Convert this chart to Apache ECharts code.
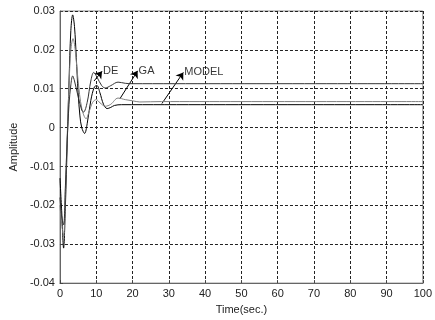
<!DOCTYPE html>
<html>
<head>
<meta charset="utf-8">
<script src="https://cdn.jsdelivr.net/npm/echarts@6/dist/echarts.min.js"></script>
<style>
  html, body { margin: 0; padding: 0; background: #fff; }
  #chart { width: 435px; height: 320px; }
</style>
</head>
<body>
<div id="chart"></div>
<script>
// step responses (time in sec, amplitude)
const timeA = [0, 0.5, 1.0, 1.5, 2.0, 2.5, 3.0, 3.5, 4.0, 4.5, 5.0, 5.5, 6.0, 6.8, 7.5, 8.5, 9.5, 10.2, 11, 12, 13, 14, 15, 17, 100];
const ampA = [-0.013, -0.022, -0.031, -0.02, -0.004, 0.012, 0.025, 0.029, 0.026, 0.018, 0.009, 0.003, 0.0, -0.0015, 0.001, 0.007, 0.0105, 0.0108, 0.009, 0.006, 0.0049, 0.0052, 0.0057, 0.0059, 0.0059];

const timeB = [0, 0.5, 1.0, 1.5, 2.0, 2.5, 3.0, 3.6, 4.2, 5, 6, 7.2, 8, 9, 10, 11, 12.5, 14, 16, 18, 20, 22, 28, 100];
const ampB = [-0.02, -0.025, -0.028, -0.016, -0.002, 0.011, 0.02, 0.0229, 0.02, 0.012, 0.005, 0.0023, 0.004, 0.0065, 0.0072, 0.0064, 0.0055, 0.006, 0.0076, 0.0072, 0.0069, 0.0066, 0.0067, 0.0067];

const timeC = [0, 0.5, 1.0, 1.5, 2.0, 2.5, 3.0, 3.5, 4.0, 5, 6, 6.5, 7.5, 8.5, 9.3, 10.2, 11.5, 12.5, 14, 16, 18, 20, 100];
const ampC = [-0.018, -0.023, -0.025, -0.015, -0.003, 0.006, 0.011, 0.0133, 0.012, 0.008, 0.0045, 0.004, 0.0065, 0.012, 0.0142, 0.013, 0.0108, 0.0102, 0.0108, 0.0117, 0.0114, 0.0113, 0.0113];

// labels with arrows: [tail, head] in data units
const labelNames = ['DE', 'GA', 'MODEL'];
const arrowTails = [[9.4, 0.012], [16.5, 0.0074], [28.1, 0.0062]];
const arrowHeads = [[11.6, 0.0145], [21.4, 0.0146], [34.0, 0.0142]];

const xTicks = [0, 10, 20, 30, 40, 50, 60, 70, 80, 90, 100];
const yTicks = [-0.04, -0.03, -0.02, -0.01, 0, 0.01, 0.02, 0.03];

const font = 'Liberation Sans, Arial, sans-serif';
const pair = (ts, vs) => ts.map((t, i) => [t, vs[i]]);

const chart = echarts.init(document.getElementById('chart'), null, { renderer: 'canvas' });
chart.setOption({
  animation: false,
  grid: { left: 57, right: 6, top: 11, bottom: 33, show: true, borderColor: '#8a8a8a', borderWidth: 1 },
  xAxis: {
    type: 'value',
    min: xTicks[0],
    max: xTicks[xTicks.length - 1],
    interval: 10,
    name: 'Time(sec.)',
    nameLocation: 'middle',
    nameGap: 17,
    nameTextStyle: { fontFamily: font, fontSize: 11, color: '#222' },
    axisLine: { show: true, onZero: false, lineStyle: { color: '#666', width: 1 } },
    axisTick: { show: true, inside: true, length: 3, lineStyle: { color: '#444' } },
    axisLabel: { fontFamily: font, fontSize: 11, color: '#222', margin: 5 },
    splitLine: { show: true, lineStyle: { color: '#222', type: [3, 2], width: 1 } }
  },
  yAxis: {
    type: 'value',
    min: yTicks[0],
    max: yTicks[yTicks.length - 1],
    interval: 0.01,
    name: 'Amplitude',
    nameLocation: 'middle',
    nameGap: 40,
    nameTextStyle: { fontFamily: font, fontSize: 11, color: '#222' },
    axisLine: { show: true, onZero: false, lineStyle: { color: '#666', width: 1 } },
    axisTick: { show: true, inside: true, length: 3, lineStyle: { color: '#444' } },
    axisLabel: {
      fontFamily: font, fontSize: 11, color: '#222', margin: 5,
      formatter: (v) => (Math.abs(v) < 1e-9 ? '0' : v.toFixed(2))
    },
    splitLine: { show: true, lineStyle: { color: '#222', type: [3, 2], width: 1 } }
  },
  series: [
    {
      type: 'line', data: pair(timeA, ampA), smooth: 0.35, showSymbol: false,
      lineStyle: { color: '#000', width: 1 }
    },
    {
      type: 'line', data: pair(timeB, ampB), smooth: 0.35, showSymbol: false,
      lineStyle: { color: '#808080', width: 1 }
    },
    {
      type: 'line', data: pair(timeC, ampC), smooth: 0.35, showSymbol: false,
      lineStyle: { color: '#333', width: 1 }
    },
    {
      type: 'lines',
      coordinateSystem: 'cartesian2d',
      symbol: ['none', 'arrow'],
      symbolSize: 7,
      lineStyle: { color: '#000', width: 1, opacity: 1 },
      data: arrowTails.map((tail, i) => ({ coords: [tail, arrowHeads[i]] }))
    },
    {
      type: 'scatter',
      symbolSize: 0,
      data: arrowHeads.map((head, i) => ({ value: head, name: labelNames[i] })),
      label: {
        show: true,
        position: 'right',
        distance: 1,
        formatter: (p) => p.name,
        fontFamily: font,
        fontSize: 11,
        color: '#000'
      }
    }
  ]
});
</script>
</body>
</html>
